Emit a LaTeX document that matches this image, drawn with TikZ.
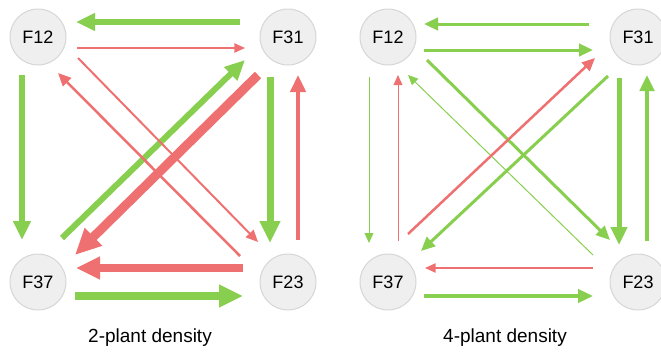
\documentclass[tikz,border=0pt]{standalone}
\usepackage{fontspec}
\setmainfont{Liberation Sans}
\usetikzlibrary{arrows.meta}
\definecolor{grn}{RGB}{136,207,80}
\definecolor{rd}{RGB}{239,112,112}
\definecolor{nodefill}{RGB}{239,239,239}
\definecolor{nodeline}{RGB}{214,214,214}
\tikzset{
  plant/.style={circle, minimum size=56pt, inner sep=0pt, fill=nodefill, draw=nodeline, line width=1pt, font=\fontsize{18}{20}\selectfont},
  ga/.style={draw=grn, line width=#1, -{Triangle[length=8pt 2, width=7pt 1.8]}},
  ra/.style={draw=rd, line width=#1, -{Triangle[length=8pt 2, width=7pt 1.8]}},
  captiontext/.style={font=\fontsize{19}{22}\selectfont, anchor=base}
}
\begin{document}
\begin{tikzpicture}[x=1pt,y=-1pt]
\useasboundingbox (0,0) rectangle (661,351);
% left panel
\node[plant] (a12) at (38,37) {F12};
\node[plant] (a31) at (288,37) {F31};
\node[plant] (a37) at (38,282) {F37};
\node[plant] (a23) at (288,282) {F23};
\draw[ga=5.5pt] ([shift={(-48,-15)}]a31.center) -- ([shift={(38,-15)}]a12.center);
\draw[ra=1.3pt] ([shift={(39,11)}]a12.center) -- ([shift={(-43,11)}]a31.center);
\draw[ga=6pt] ([shift={(24,-44)}]a37.center) -- ([shift={(-43,23)}]a31.center);
\draw[ra=9pt] ([shift={(-30,38)}]a31.center) -- ([shift={(37,-27)}]a37.center);
\draw[ra=2pt] ([shift={(40,21)}]a12.center) -- ([shift={(-30,-40)}]a23.center);
\draw[ra=2.5pt] ([shift={(-48,-26)}]a23.center) -- ([shift={(20,36)}]a12.center);
\draw[ga=5.5pt] ([shift={(-16,38)}]a12.center) -- ([shift={(-16,-42)}]a37.center);
\draw[ga=7pt] ([shift={(-18,40)}]a31.center) -- ([shift={(-18,-39)}]a23.center);
\draw[ra=4.5pt] ([shift={(10,-42)}]a23.center) -- ([shift={(10,38)}]a31.center);
\draw[ra=8pt] ([shift={(-45,-14)}]a23.center) -- ([shift={(38,-14)}]a37.center);
\draw[ga=8pt] ([shift={(37,14)}]a37.center) -- ([shift={(-45,14)}]a23.center);
\node[captiontext] (capl) at (150,342) {2-plant density};
% right panel
\node[plant] (b12) at (388,37) {F12};
\node[plant] (b31) at (638,37) {F31};
\node[plant] (b37) at (388,282) {F37};
\node[plant] (b23) at (638,282) {F23};
\draw[ga=3pt] ([shift={(-49,-13)}]b31.center) -- ([shift={(36,-13)}]b12.center);
\draw[ga=3pt] ([shift={(36,13)}]b12.center) -- ([shift={(-45,13)}]b31.center);
\draw[ga=3pt] ([shift={(39,23)}]b12.center) -- ([shift={(-28,-42)}]b23.center);
\draw[ga=1pt] ([shift={(-45,-27)}]b23.center) -- ([shift={(20,38)}]b12.center);
\draw[ra=2.5pt] ([shift={(20,-48)}]b37.center) -- ([shift={(-43,21)}]b31.center);
\draw[ga=3pt] ([shift={(-30,39)}]b31.center) -- ([shift={(33,-31)}]b37.center);
\draw[ga=1pt] ([shift={(-19,40)}]b12.center) -- ([shift={(-19,-39)}]b37.center);
\draw[ra=1pt] ([shift={(10,-41)}]b37.center) -- ([shift={(10,38)}]b12.center);
\draw[ga=5pt] ([shift={(-19,41)}]b31.center) -- ([shift={(-19,-37)}]b23.center);
\draw[ga=4pt] ([shift={(9,-41)}]b23.center) -- ([shift={(9,38)}]b31.center);
\draw[ra=1.3pt] ([shift={(-45,-14)}]b23.center) -- ([shift={(37,-14)}]b37.center);
\draw[ga=3.5pt] ([shift={(36,14)}]b37.center) -- ([shift={(-45,14)}]b23.center);
\node[captiontext] (capr) at (505,342) {4-plant density};
\end{tikzpicture}
\end{document}
